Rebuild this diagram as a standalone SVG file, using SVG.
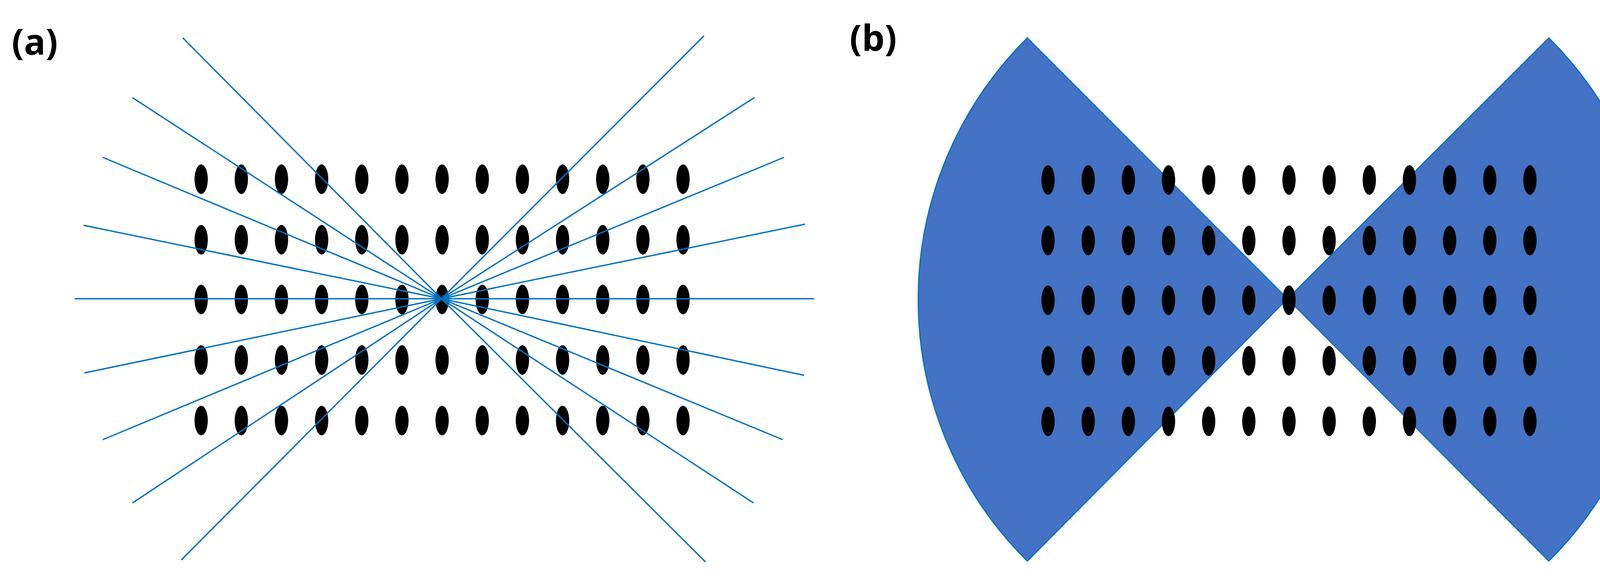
<svg xmlns="http://www.w3.org/2000/svg" xmlns:xlink="http://www.w3.org/1999/xlink" width="4290" height="1493" viewBox="0 0 4290 1493">
<style>
.lbl{font-family:"Open Sans","Liberation Sans",sans-serif;font-weight:bold;font-size:92px;fill:#000}
.ray{stroke:#0070C0;stroke-width:3.5;fill:none}
.fan{fill:#4472C4;stroke:#0070C0;stroke-width:3}
</style>
<defs>
<ellipse id="d" rx="17" ry="38" fill="#000"/>
<g id="row">
<use xlink:href="#d" x="0"/><use xlink:href="#d" x="102.8"/><use xlink:href="#d" x="205.6"/><use xlink:href="#d" x="308.4"/><use xlink:href="#d" x="411.2"/><use xlink:href="#d" x="514"/><use xlink:href="#d" x="616.8"/><use xlink:href="#d" x="719.6"/><use xlink:href="#d" x="822.4"/><use xlink:href="#d" x="925.2"/><use xlink:href="#d" x="1028"/><use xlink:href="#d" x="1130.8"/><use xlink:href="#d" x="1233.6"/>
</g>
<g id="grid">
<use xlink:href="#row" y="0"/><use xlink:href="#row" y="155"/><use xlink:href="#row" y="308"/><use xlink:href="#row" y="463"/><use xlink:href="#row" y="618"/>
</g>
</defs>
<rect width="4290" height="1493" fill="#fff"/>
<g id="panel-a">
<text class="lbl" x="30" y="140">(a)</text>
<use xlink:href="#grid" x="515" y="459"/>
<g id="rays" class="ray">
<line x1="1130" y1="765" x2="468" y2="97"/>
<line x1="1130" y1="765" x2="339" y2="250"/>
<line x1="1130" y1="765" x2="263" y2="403"/>
<line x1="1130" y1="765" x2="214" y2="577"/>
<line x1="1130" y1="765" x2="191" y2="765"/>
<line x1="1130" y1="765" x2="216" y2="955"/>
<line x1="1130" y1="765" x2="263" y2="1126"/>
<line x1="1130" y1="765" x2="339" y2="1288"/>
<line x1="1130" y1="765" x2="464" y2="1434"/>
<line x1="1130" y1="765" x2="1802" y2="92"/>
<line x1="1130" y1="765" x2="1931" y2="250"/>
<line x1="1130" y1="765" x2="2007" y2="403"/>
<line x1="1130" y1="765" x2="2061" y2="574"/>
<line x1="1130" y1="765" x2="2084" y2="765"/>
<line x1="1130" y1="765" x2="2058" y2="961"/>
<line x1="1130" y1="765" x2="2004" y2="1126"/>
<line x1="1130" y1="765" x2="1929" y2="1288"/>
<line x1="1130" y1="765" x2="1806" y2="1439"/>
</g>
</g>
<g id="panel-b">
<text class="lbl" x="2175" y="130">(b)</text>
<path class="fan" d="M3296 765 L2630 97 A943 943 0 0 0 2630 1437 Z"/>
<path class="fan" d="M3296 765 L3965 97 A945 945 0 0 1 3965 1437 Z"/>
<use xlink:href="#grid" x="2683" y="461"/>
</g>
</svg>
